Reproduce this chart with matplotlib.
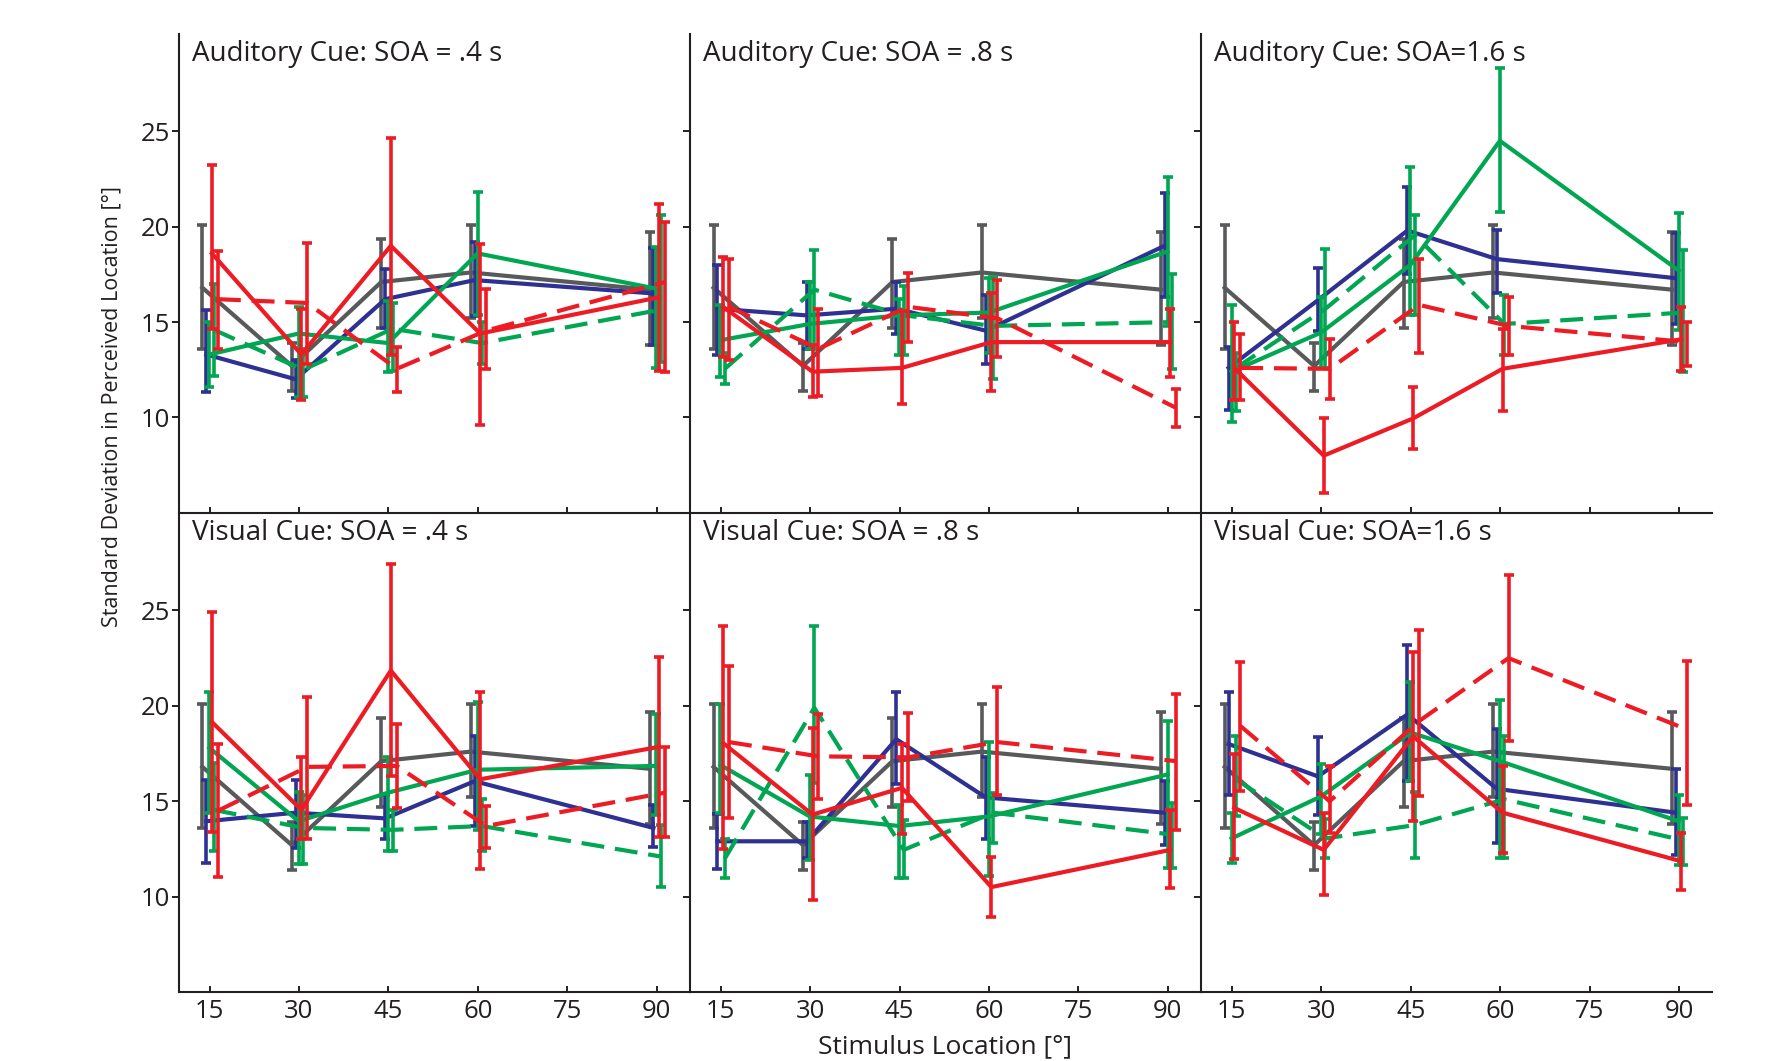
import matplotlib.pyplot as plt

plt.rcParams['font.family'] = ['Open Sans', 'DejaVu Sans']

# stimulus locations (deg)
locations = [15, 30, 45, 60, 90]
x_ticks = [15, 30, 45, 60, 75, 90]
y_ticks = [10, 15, 20, 25]

# each series: [means, lower, upper]
# gray baseline, same in every panel
gray = [[16.8, 12.7, 17.1, 17.6, 16.7],
        [13.6, 11.4, 14.7, 15.2, 13.8],
        [20.1, 13.9, 19.35, 20.1, 19.7]]

# Auditory cue, SOA .4 s
a04_blue = [[13.3, 12.0, 16.2, 17.2, 16.5],
            [11.35, 11.0, 14.7, 15.3, 13.8],
            [15.65, 13.0, 17.8, 19.2, 18.9]]
a04_green = [[13.3, 14.4, 13.9, 18.6, 16.75],
             [11.6, 11.05, 12.4, 15.35, 12.6],
             [15.0, 15.8, 16.1, 21.8, 18.95]]
a04_green_d = [[14.6, 12.5, 14.65, 13.9, 15.65],
               [12.2, 11.05, 12.45, 12.8, 12.9],
               [17.0, 13.6, 16.0, 15.0, 20.6]]
a04_red = [[18.6, 13.3, 19.0, 14.4, 16.3],
           [14.65, 10.9, 13.3, 9.6, 12.45],
           [23.25, 15.7, 24.65, 19.1, 21.2]]
a04_red_d = [[16.2, 16.0, 12.55, 14.55, 17.1],
             [13.6, 12.8, 11.35, 12.55, 12.4],
             [18.7, 19.15, 13.7, 16.75, 20.25]]

# Auditory cue, SOA .8 s
a08_blue = [[15.7, 15.35, 15.7, 14.55, 19.0],
            [13.3, 13.6, 14.4, 12.8, 16.3],
            [18.0, 17.1, 17.1, 16.4, 21.75]]
a08_green = [[14.05, 14.9, 15.35, 15.5, 18.7],
             [12.1, 13.6, 13.3, 13.4, 14.8],
             [15.9, 17.1, 16.2, 17.3, 22.6]]
a08_green_d = [[12.55, 16.7, 15.35, 14.8, 15.0],
               [11.75, 13.6, 13.25, 12.0, 12.55],
               [13.4, 18.8, 16.9, 17.35, 17.5]]
a08_red = [[15.8, 12.4, 12.6, 13.95, 13.95],
           [13.15, 11.05, 10.7, 11.4, 12.1],
           [18.4, 13.8, 15.6, 16.5, 15.7]]
a08_red_d = [[15.8, 13.6, 15.8, 15.2, 10.5],
             [13.0, 11.1, 13.95, 13.15, 9.5],
             [18.3, 15.7, 17.55, 17.2, 11.5]]

# Auditory cue, SOA 1.6 s
a16_blue = [[12.6, 16.15, 19.8, 18.3, 17.3],
            [10.4, 14.55, 17.5, 16.5, 14.9],
            [13.7, 17.85, 22.1, 19.8, 19.65]]
a16_green = [[12.4, 14.45, 18.0, 24.5, 17.7],
             [9.75, 12.6, 15.35, 20.75, 14.6],
             [15.9, 16.3, 23.15, 28.3, 20.7]]
a16_green_d = [[12.6, 15.7, 19.55, 14.9, 15.5],
               [10.35, 12.6, 15.35, 13.25, 12.4],
               [13.4, 18.85, 20.6, 16.4, 18.8]]
a16_red = [[12.6, 8.0, 9.95, 12.55, 14.1],
           [10.9, 6.05, 8.35, 10.35, 12.45],
           [15.0, 9.95, 11.6, 14.65, 15.8]]
a16_red_d = [[12.6, 12.55, 15.9, 14.8, 13.95],
             [10.9, 10.95, 13.4, 13.3, 12.7],
             [14.4, 14.1, 18.3, 16.3, 15.0]]

# Visual cue, SOA .4 s
v04_blue = [[13.95, 14.4, 14.1, 16.05, 13.6],
            [11.75, 12.55, 13.0, 13.7, 12.6],
            [16.1, 16.1, 15.3, 18.4, 14.8]]
v04_green = [[17.8, 13.95, 15.45, 16.65, 16.85],
             [14.4, 11.7, 12.4, 13.5, 14.3],
             [20.75, 15.5, 17.3, 20.2, 19.55]]
v04_green_d = [[14.55, 13.6, 13.5, 13.7, 12.1],
               [12.4, 11.7, 12.4, 12.4, 10.5],
               [17.0, 15.3, 14.55, 15.1, 13.75]]
v04_red = [[19.15, 14.55, 21.85, 16.15, 17.85],
           [13.4, 13.0, 16.3, 11.45, 13.1],
           [24.9, 17.3, 27.45, 20.75, 22.55]]
v04_red_d = [[14.5, 16.8, 16.85, 13.7, 15.45],
             [11.05, 13.0, 14.65, 12.55, 13.1],
             [18.0, 20.45, 19.05, 14.75, 17.85]]

# Visual cue, SOA .8 s
v08_blue = [[12.9, 12.9, 18.25, 15.2, 14.4],
            [11.45, 12.0, 15.9, 13.0, 12.7],
            [14.35, 13.9, 20.75, 17.3, 16.05]]
v08_green = [[16.9, 14.2, 13.7, 14.2, 16.4],
             [14.4, 11.9, 11.0, 11.1, 11.5],
             [20.1, 16.4, 14.8, 18.1, 19.2]]
v08_green_d = [[12.0, 19.9, 12.45, 14.4, 13.25],
               [11.0, 15.95, 11.0, 12.8, 11.5],
               [13.0, 24.2, 14.0, 15.45, 14.9]]
v08_red = [[18.05, 14.3, 15.7, 10.5, 12.45],
           [12.5, 9.8, 13.3, 8.95, 10.45],
           [24.2, 18.85, 18.0, 12.1, 14.55]]
v08_red_d = [[18.1, 17.35, 17.3, 18.1, 17.1],
             [14.1, 15.1, 15.0, 15.35, 13.5],
             [22.1, 19.55, 19.6, 21.0, 20.6]]

# Visual cue, SOA 1.6 s
v16_blue = [[18.0, 16.3, 19.55, 15.65, 14.4],
            [15.35, 14.3, 16.05, 12.8, 12.2],
            [20.7, 18.35, 23.2, 18.8, 16.7]]
v16_green = [[13.05, 15.25, 18.6, 17.1, 13.95],
             [11.75, 13.3, 16.05, 12.0, 11.65],
             [14.4, 16.95, 21.25, 20.3, 15.3]]
v16_green_d = [[16.15, 13.05, 13.75, 15.1, 12.95],
               [14.2, 12.0, 12.05, 12.0, 11.65],
               [18.4, 14.05, 15.5, 18.4, 14.1]]
v16_red = [[14.65, 12.45, 18.4, 14.4, 11.85],
           [11.95, 10.1, 13.95, 12.3, 10.35],
           [17.5, 14.4, 22.8, 16.85, 13.35]]
v16_red_d = [[18.95, 15.0, 19.2, 22.5, 18.75],
             [15.55, 13.35, 15.25, 18.15, 14.8],
             [22.3, 16.85, 23.95, 26.85, 22.35]]

titles = ["Auditory Cue: SOA = .4 s", "Auditory Cue: SOA = .8 s", "Auditory Cue: SOA=1.6 s",
          "Visual Cue: SOA = .4 s", "Visual Cue: SOA = .8 s", "Visual Cue: SOA=1.6 s"]

panels = [
    [a04_blue, a04_green, a04_green_d, a04_red, a04_red_d],
    [a08_blue, a08_green, a08_green_d, a08_red, a08_red_d],
    [a16_blue, a16_green, a16_green_d, a16_red, a16_red_d],
    [v04_blue, v04_green, v04_green_d, v04_red, v04_red_d],
    [v08_blue, v08_green, v08_green_d, v08_red, v08_red_d],
    [v16_blue, v16_green, v16_green_d, v16_red, v16_red_d],
]

GRAY = "#58595b"
BLUE = "#2e3192"
GREEN = "#00a651"
RED = "#ed1c24"
AXIS = "#231f20"

# (color, linestyle, x offset) for gray + the five panel series
dash = (0, (5.5, 2.6))
styles = [(GRAY, "-", -1.2), (BLUE, "-", -0.55), (GREEN, "-", -0.05),
          (GREEN, dash, 0.7), (RED, "-", 0.4), (RED, dash, 1.4)]

fig = plt.figure(figsize=(17.73, 10.61), dpi=100)

lefts = [0.1007, 0.389, 0.6773]
width = 0.2882
bottoms = [0.5166, 0.065]
height = 0.4514

for i, series in enumerate(panels):
    row, col = divmod(i, 3)
    ax = fig.add_axes([lefts[col], bottoms[row], width, height])

    for data, (color, ls, off) in zip([gray] + series, styles):
        xs = [x + off for x in locations]
        mean, lo, hi = data
        yerr = [[m - l for m, l in zip(mean, lo)], [h - m for m, h in zip(mean, hi)]]
        ax.errorbar(xs, mean, yerr=yerr, fmt="none", ecolor=color,
                    elinewidth=2.6, capsize=3.5, capthick=2.6)
        ax.plot(xs, mean, color=color, linestyle=ls, linewidth=3.0)

    ax.set_xlim(9.8, 95.5)
    ax.set_ylim(5, 30.1)
    ax.set_xticks(x_ticks)
    ax.set_yticks(y_ticks)
    ax.spines["top"].set_visible(False)
    ax.spines["right"].set_visible(False)
    for s in ["left", "bottom"]:
        ax.spines[s].set_linewidth(1.5)
        ax.spines[s].set_color(AXIS)
    ax.tick_params(axis="x", direction="in", length=4.5, width=1.4, colors=AXIS,
                   labelsize=18.5, pad=5, labelcolor=AXIS)
    ax.tick_params(axis="y", direction="out", length=4.8, width=1.4, colors=AXIS,
                   labelsize=18.5, pad=1.5, labelcolor=AXIS)
    if row == 0:
        ax.set_xticklabels([])
    if col > 0:
        ax.set_yticklabels([])
    ax.patch.set_alpha(0)

    ax.text(0.026, 0.988, titles[i], transform=ax.transAxes, ha="left", va="top",
            fontsize=20, color=AXIS)

fig.text(0.063, 0.6164, "Standard Deviation in Perceived Location [°]", rotation=90,
         ha="center", va="center", fontsize=15.5, color=AXIS)
fig.text(0.533, 0.002, "Stimulus Location [°]", ha="center", va="bottom",
         fontsize=19, color=AXIS)

fig.savefig("out.png", dpi=100)
